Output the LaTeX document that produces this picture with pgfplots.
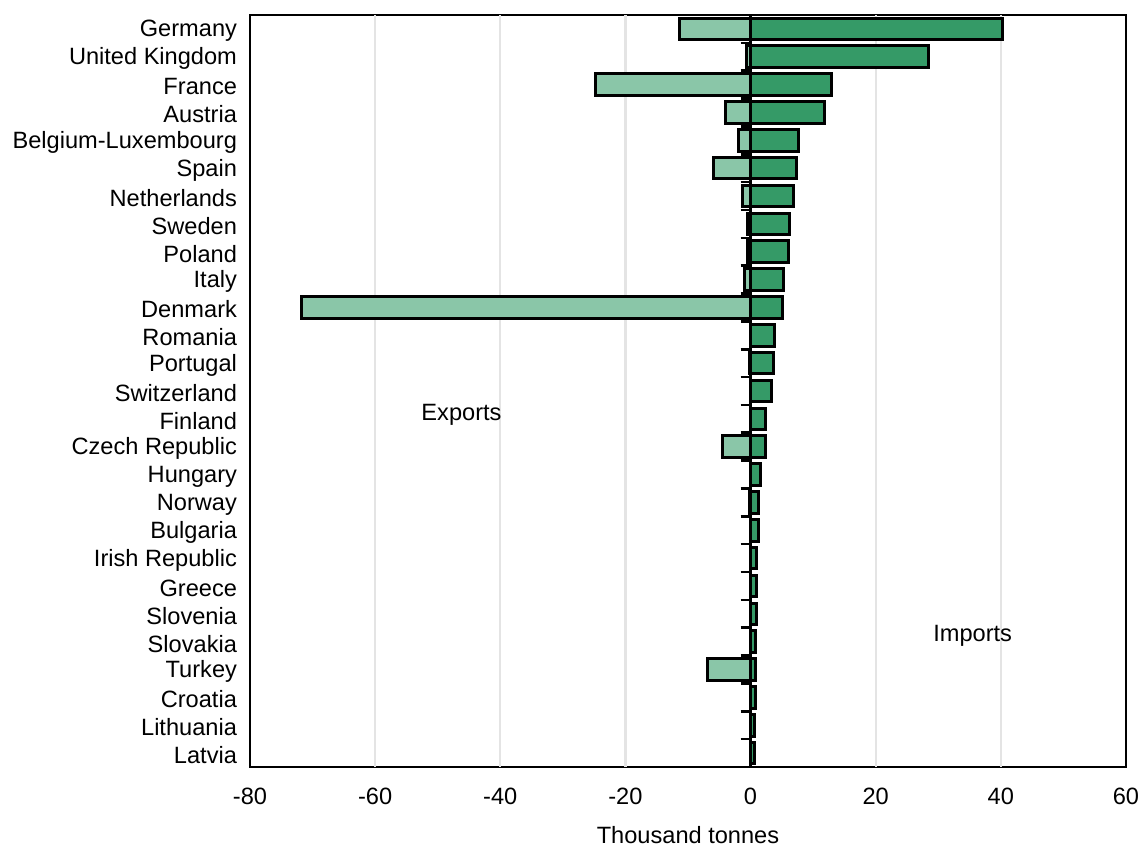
\documentclass[border=0pt]{standalone}
\usepackage{pgfplots}
\pgfplotsset{compat=1.18}
\usepackage{fontspec}
\setmainfont{Liberation Sans}
\definecolor{imp}{RGB}{53,154,103}
\definecolor{exp}{RGB}{138,198,168}
\definecolor{gridc}{RGB}{228,228,228}
\begin{document}
\begin{tikzpicture}
\useasboundingbox (-125pt,-40pt) rectangle (446pt,383.5pt);
\pgfplotsset{every axis/.style={scale only axis, width=438pt, height=376pt,
  xmin=-80, xmax=60, ymin=-0.5, ymax=26.5, y dir=reverse, at={(0,0)}, anchor=south west}}
\begin{axis}[
  font=\fontsize{11.8}{13}\selectfont,
  axis line style={line width=1.2pt},
  xtick={-80,-60,...,60},
  grid=none,
  extra x ticks={-60,-40,-20,20,40},
  extra x tick labels={},
  extra x tick style={grid=major, major grid style={gridc, line width=1.2pt}, major tick length=0pt},
  major tick length=0pt,
  xticklabel style={yshift=-7pt},
  /pgf/number format/assume math mode=true,
  ytick={0,...,26},
  yticklabels={Germany,United Kingdom,France,Austria,Belgium-Luxembourg,Spain,Netherlands,Sweden,Poland,Italy,Denmark,Romania,Portugal,Switzerland,Finland,Czech Republic,Hungary,Norway,Bulgaria,Irish Republic,Greece,Slovenia,Slovakia,Turkey,Croatia,Lithuania,Latvia},
  yticklabel style={xshift=-3pt, yshift=-1pt},
  xlabel={Thousand tonnes},
  xlabel style={yshift=-4pt},
  xbar, bar width=10.8pt, bar shift=0pt,
  axis on top=false,
]
\addplot[draw=black, line width=1.5pt, fill=exp] coordinates {
(-11.3,0) (-0.6,1) (-24.8,2) (-4.0,3) (-1.9,4) (-6.0,5) (-1.3,6) (-0.5,7) (-0.5,8) (-1.0,9) (-71.7,10) (-0.05,11) (-0.2,12) (-0.05,13) (-0.05,14) (-4.5,15) (-0.05,16) (-0.2,17) (-0.05,18) (-0.05,19) (-0.05,20) (-0.05,21) (-0.05,22) (-6.9,23) (-0.05,24) (-0.05,25) (-0.05,26)
};
\addplot[draw=black, line width=1.5pt, fill=imp] coordinates {
(40.3,0) (28.5,1) (12.9,2) (11.8,3) (7.6,4) (7.35,5) (6.9,6) (6.2,7) (6.1,8) (5.3,9) (5.1,10) (3.8,11) (3.6,12) (3.3,13) (2.4,14) (2.4,15) (1.6,16) (1.3,17) (1.2,18) (1.0,19) (0.96,20) (0.9,21) (0.85,22) (0.85,23) (0.8,24) (0.6,25) (0.6,26)
};
\node[font=\fontsize{11.8}{13}\selectfont] at (axis cs:-46.2,13.86) {Exports};
\node[font=\fontsize{11.8}{13}\selectfont] at (axis cs:35.5,21.8) {Imports};
\end{axis}
\begin{axis}[
  axis x line=none,
  axis y line=middle,
  axis line style={line width=1.6pt, -, black},
  ytick={0.5,1.5,...,25.5},
  yticklabels={},
  major tick length=5pt,
  every tick/.style={black, line width=1.3pt},
  ytick style={black, line width=1.3pt, xshift=-2.5pt},
]
\end{axis}
\end{tikzpicture}
\end{document}
